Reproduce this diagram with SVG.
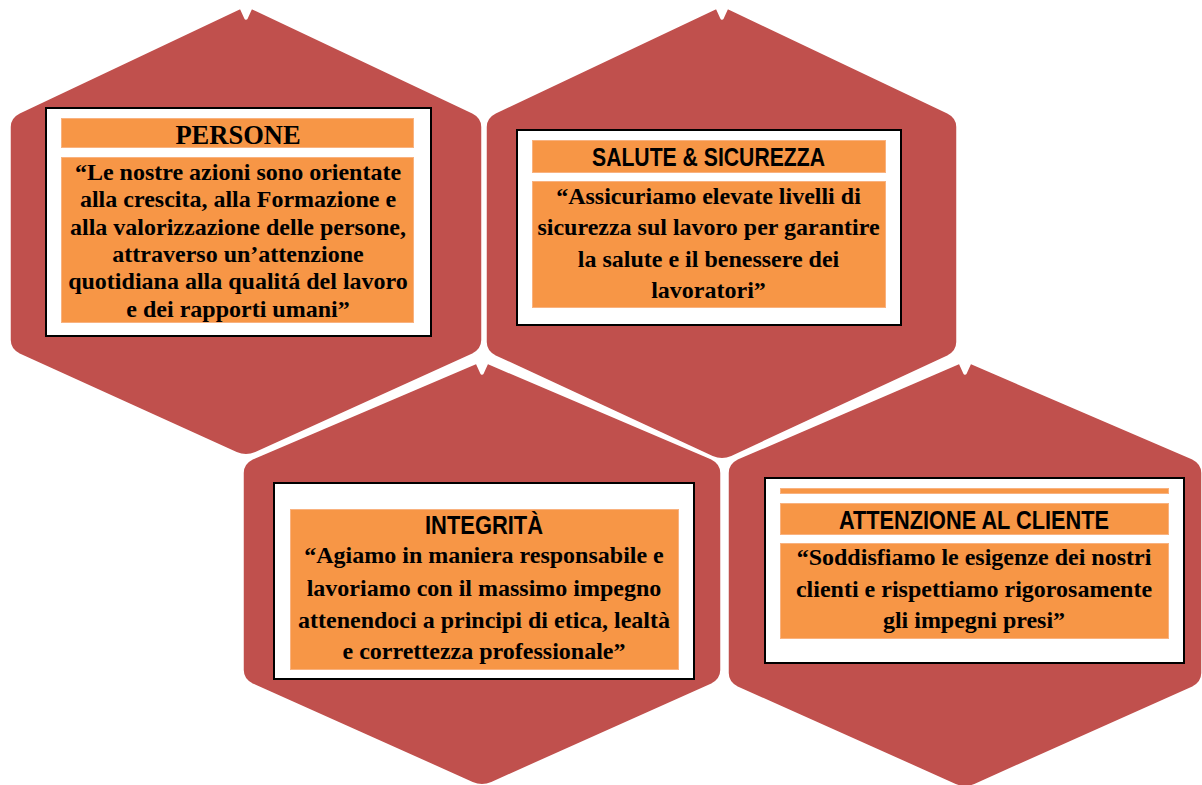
<svg xmlns="http://www.w3.org/2000/svg" width="1202" height="785" viewBox="0 0 1202 785">
<style>
.hex{fill:#C0504D;stroke:#FFFFFF;stroke-width:3.5;stroke-linejoin:round}
.box{fill:#FFFFFF;stroke:#000000;stroke-width:2}
.band{fill:#F79646;stroke:#F9B27F;stroke-width:1}
.body{font-family:"Liberation Serif","Times New Roman",serif;font-weight:bold;font-size:24px;fill:#000;text-anchor:middle}
.ttl-serif{font-family:"Liberation Serif","Times New Roman",serif;font-weight:bold;font-size:26.5px;fill:#000;text-anchor:middle}
.ttl-sans{font-family:"Liberation Sans",Arial,sans-serif;font-weight:bold;font-size:25px;fill:#000;text-anchor:middle}
</style>
<rect width="1202" height="785" fill="#FFFFFF"/>
<g id="connectors"/>
<g id="node-integrita">
<path class="hex" d="M477,362 L482,373 L487,362 L712,458 Q722,463 722,473 L722,670 Q722,680 712,685 L492,783.5 Q482,788 472,783.5 L252,685 Q242,680 242,670 L242,473 Q242,463 252,458 Z"/>
<rect class="box" x="274" y="483" width="420" height="196"/>
<rect class="band" x="290.5" y="509.5" width="388" height="160"/>
<text class="ttl-sans" x="484" y="534.3" textLength="118" lengthAdjust="spacingAndGlyphs">INTEGRITÀ</text>
<text class="body" x="484" y="563.3">“Agiamo in maniera responsabile e</text>
<text class="body" x="484" y="596">lavoriamo con il massimo impegno</text>
<text class="body" x="484" y="627.7">attenendoci a principi di etica, lealtà</text>
<text class="body" x="484" y="659.3">e correttezza professionale”</text>
</g>
<g id="node-attenzione">
<path class="hex" d="M960,362 L965,373 L970,362 L1193,458 Q1203,463 1203,473 L1203,673 Q1203,683 1193,688 L975,785.5 Q965,790 955,785.5 L737,688 Q727,683 727,673 L727,473 Q727,463 737,458 Z"/>
<rect class="box" x="765" y="478" width="419" height="185"/>
<rect class="band" x="780.5" y="488.5" width="388" height="5"/>
<rect class="band" x="780.5" y="503.5" width="388" height="31"/>
<rect class="band" x="780.5" y="543.5" width="388" height="95"/>
<text class="ttl-sans" x="974" y="529.3" textLength="270" lengthAdjust="spacingAndGlyphs">ATTENZIONE AL CLIENTE</text>
<text class="body" x="974" y="565">“Soddisfiamo le esigenze dei nostri</text>
<text class="body" x="974" y="597.3">clienti e rispettiamo rigorosamente</text>
<text class="body" x="974" y="628.3">gli impegni presi”</text>
</g>
<g id="node-persone">
<path class="hex" d="M241,7 L246,18 L251,7 L473,112 Q483,117 483,127 L483,340 Q483,350 473,355 L256,453.5 Q246,458 236,453.5 L19,355 Q9,350 9,340 L9,127 Q9,117 19,112 Z"/>
<rect class="box" x="46" y="108" width="385" height="228"/>
<rect class="band" x="61.5" y="118.5" width="352" height="29"/>
<rect class="band" x="61.5" y="157.5" width="352" height="165"/>
<text class="ttl-serif" x="238" y="144">PERSONE</text>
<text class="body" x="238" y="180">“Le nostre azioni sono orientate</text>
<text class="body" x="238" y="207.3">alla crescita, alla Formazione e</text>
<text class="body" x="238" y="234.6">alla valorizzazione delle persone,</text>
<text class="body" x="238" y="262">attraverso un’attenzione</text>
<text class="body" x="238" y="289.3">quotidiana alla qualitá del lavoro</text>
<text class="body" x="238" y="316.6">e dei rapporti umani”</text>
</g>
<g id="node-salute">
<path class="hex" d="M717,7 L722,18 L727,7 L948,112 Q958,117 958,127 L958,342 Q958,352 948,357 L732,457.5 Q722,462 712,457.5 L495,357 Q485,352 485,342 L485,127 Q485,117 495,112 Z"/>
<rect class="box" x="517" y="130" width="384" height="195"/>
<rect class="band" x="532.5" y="140.5" width="353" height="32"/>
<rect class="band" x="532.5" y="181.5" width="353" height="126"/>
<text class="ttl-sans" x="708.5" y="166" textLength="233" lengthAdjust="spacingAndGlyphs">SALUTE &amp; SICUREZZA</text>
<text class="body" x="708.5" y="203.5">“Assicuriamo elevate livelli di</text>
<text class="body" x="708.5" y="235">sicurezza sul lavoro per garantire</text>
<text class="body" x="708.5" y="266.5">la salute e il benessere dei</text>
<text class="body" x="708.5" y="298">lavoratori”</text>
</g>
</svg>
